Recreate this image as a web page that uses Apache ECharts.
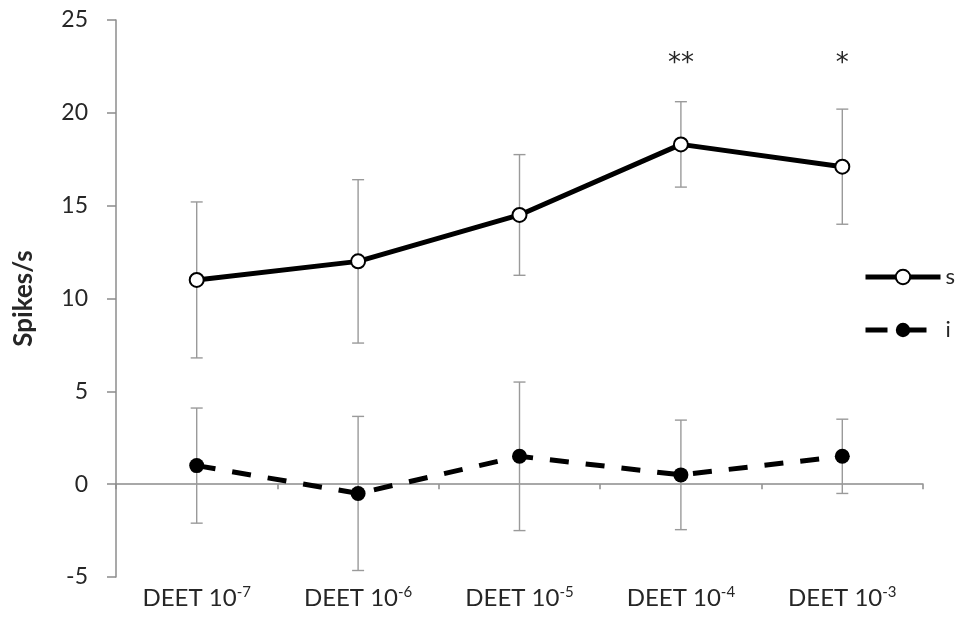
<!DOCTYPE html>
<html>
<head>
<meta charset="utf-8">
<script src="https://cdn.jsdelivr.net/npm/echarts@6/dist/echarts.min.js"></script>
<style>
  html, body { margin: 0; padding: 0; background: #fff; }
  #chart { width: 964px; height: 626px; }
</style>
</head>
<body>
<div id="chart"></div>
<script>
// DEET concentrations (exponent of 10)
const categories = ['-7', '-6', '-5', '-4', '-3'];
// Mean firing rates (spikes/s) and their error margins
const sMeans = [11.0, 12.0, 14.5, 18.3, 17.1];
const sErrors = [4.2, 4.4, 3.25, 2.3, 3.1];
const iMeans = [1.0, -0.5, 1.5, 0.5, 1.5];
const iErrors = [3.1, 4.15, 4.0, 2.95, 2.0];
// Significance markers above each concentration
const significance = ['', '', '', '**', '*'];
const yTicks = { min: -5, max: 25, step: 5 };

const FONT = 'Lato, "Open Sans", sans-serif';
const TEXT = '#262626';
const AXIS = '#8c8c8c';
const STAR_LEVEL = 22.6;

function errorData(means, errs) {
  return means.map((m, k) => [k, m - errs[k], m + errs[k]]);
}

function renderError(params, api) {
  const x = api.value(0);
  const lo = api.coord([x, api.value(1)]);
  const hi = api.coord([x, api.value(2)]);
  const cap = 6;
  const style = { stroke: '#9a9a9a', lineWidth: 1.4 };
  return {
    type: 'group',
    children: [
      { type: 'line', shape: { x1: hi[0], y1: hi[1], x2: lo[0], y2: lo[1] }, style },
      { type: 'line', shape: { x1: hi[0] - cap, y1: hi[1], x2: hi[0] + cap, y2: hi[1] }, style },
      { type: 'line', shape: { x1: lo[0] - cap, y1: lo[1], x2: lo[0] + cap, y2: lo[1] }, style }
    ]
  };
}

const chart = echarts.init(document.getElementById('chart'), null, { renderer: 'canvas' });

chart.setOption({
  animation: false,
  backgroundColor: '#fff',
  grid: { left: 116, right: 41, top: 20, bottom: 49, containLabel: false },
  legend: {
    orient: 'vertical',
    left: 863,
    top: 266,
    padding: 0,
    itemWidth: 75,
    itemHeight: 18,
    itemGap: 31,
    lineStyle: { width: 5, color: '#000' },
    data: [
      { name: 's' },
      { name: 'i', lineStyle: { type: [22, 17], width: 5, color: '#000' } }
    ],
    textStyle: { fontFamily: FONT, fontSize: 22, color: TEXT, padding: [0, 0, 4, 0] }
  },
  xAxis: [
    {
      type: 'category',
      data: categories,
      boundaryGap: true,
      axisLine: { onZero: true, lineStyle: { color: AXIS, width: 1.5 } },
      axisTick: { show: true, length: 5, interval: 0, lineStyle: { color: AXIS, width: 1.5 } },
      axisLabel: { show: false },
      splitLine: { show: false }
    },
    {
      type: 'category',
      data: categories,
      position: 'bottom',
      boundaryGap: true,
      axisLine: { show: false, onZero: false },
      axisTick: { show: false },
      axisLabel: {
        interval: 0,
        margin: 8,
        fontFamily: FONT,
        fontSize: 24,
        color: TEXT,
        formatter: v => 'DEET 10{sup|' + v + '}',
        rich: {
          sup: { fontFamily: FONT, fontSize: 15, color: TEXT, verticalAlign: 'top', padding: [0, 0, 12, 0] }
        }
      }
    }
  ],
  yAxis: {
    type: 'value',
    min: yTicks.min,
    max: yTicks.max,
    interval: yTicks.step,
    name: 'Spikes/s',
    nameLocation: 'middle',
    nameRotate: 90,
    nameGap: 79,
    nameTextStyle: { fontFamily: FONT, fontSize: 26, fontWeight: 'bold', color: TEXT },
    axisLine: { show: true, lineStyle: { color: AXIS, width: 1.5 } },
    axisTick: { show: true, length: 9, lineStyle: { color: AXIS, width: 1.5 } },
    axisLabel: { margin: 28, fontFamily: FONT, fontSize: 23, color: TEXT },
    splitLine: { show: false }
  },
  series: [
    {
      name: 'sErr',
      type: 'custom',
      renderItem: renderError,
      data: errorData(sMeans, sErrors),
      z: 1,
      silent: true
    },
    {
      name: 'iErr',
      type: 'custom',
      renderItem: renderError,
      data: errorData(iMeans, iErrors),
      z: 1,
      silent: true
    },
    {
      name: 's',
      type: 'line',
      data: sMeans,
      symbol: 'circle',
      symbolSize: 14,
      lineStyle: { color: '#000', width: 5 },
      itemStyle: { color: '#fff', borderColor: '#000', borderWidth: 2 },
      z: 3
    },
    {
      name: 'i',
      type: 'line',
      data: iMeans,
      symbol: 'circle',
      symbolSize: 15,
      lineStyle: { color: '#000', width: 5, type: [19, 17] },
      itemStyle: { color: '#000', borderColor: '#000', borderWidth: 0 },
      z: 3
    },
    {
      name: 'sig',
      type: 'custom',
      silent: true,
      data: significance.map((t, k) => [k, t]),
      renderItem: (params, api) => {
        const k = api.value(0);
        const p = api.coord([k, STAR_LEVEL]);
        return {
          type: 'text',
          x: p[0],
          y: p[1],
          style: {
            text: significance[k],
            fontFamily: '"DejaVu Sans", sans-serif',
            fontSize: 26,
            fill: TEXT,
            align: 'center',
            verticalAlign: 'middle'
          }
        };
      },
      z: 4
    }
  ]
});
</script>
</body>
</html>
